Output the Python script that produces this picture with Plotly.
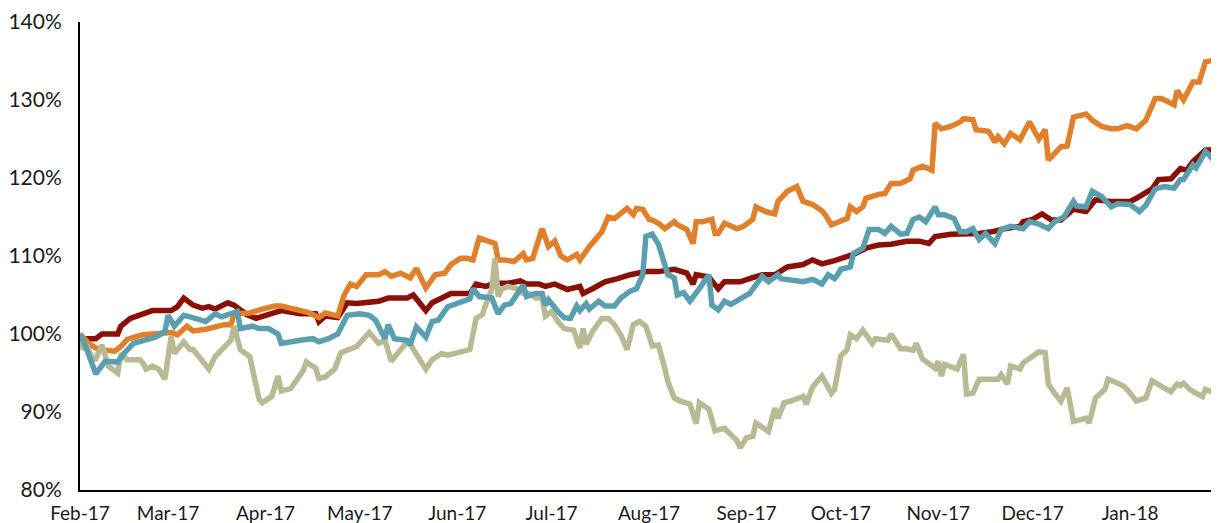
import plotly.graph_objects as go

# ---- Series 1 (dark red) ----
red_dates = ["2017-02-01","2017-02-02","2017-02-06","2017-02-08","2017-02-13","2017-02-14","2017-02-17","2017-02-20","2017-02-24",
             "2017-03-02","2017-03-04","2017-03-06","2017-03-09","2017-03-12","2017-03-14","2017-03-16","2017-03-20","2017-03-22","2017-03-24","2017-03-26","2017-03-29",
             "2017-04-06","2017-04-12","2017-04-17","2017-04-18","2017-04-20","2017-04-24","2017-04-27","2017-04-30",
             "2017-05-07","2017-05-10","2017-05-16","2017-05-18","2017-05-19","2017-05-22","2017-05-24","2017-05-27","2017-05-30",
             "2017-06-02","2017-06-05","2017-06-07","2017-06-10","2017-06-13","2017-06-17","2017-06-21","2017-06-23","2017-06-27","2017-06-29",
             "2017-07-02","2017-07-06","2017-07-10","2017-07-11","2017-07-14","2017-07-18","2017-07-22","2017-07-26","2017-07-31",
             "2017-08-04","2017-08-09","2017-08-13","2017-08-15","2017-08-16","2017-08-20","2017-08-23","2017-08-25","2017-08-30",
             "2017-09-02","2017-09-06","2017-09-10","2017-09-14","2017-09-19","2017-09-22","2017-09-25","2017-09-29",
             "2017-10-05","2017-10-09","2017-10-13","2017-10-17","2017-10-22","2017-10-26","2017-10-29","2017-10-31",
             "2017-11-05","2017-11-10","2017-11-14","2017-11-18","2017-11-22","2017-11-27","2017-11-28",
             "2017-12-01","2017-12-04","2017-12-07","2017-12-10","2017-12-14","2017-12-18","2017-12-21","2017-12-26",
             "2018-01-01","2018-01-03","2018-01-08","2018-01-10","2018-01-14","2018-01-17","2018-01-19","2018-01-21","2018-01-25","2018-01-29"]
red_values = [100.0,99.4,99.4,100.0,100.0,101.0,102.0,102.5,103.0,
              103.0,103.5,104.6,103.7,103.3,103.5,103.2,104.0,103.7,103.2,102.5,102.0,
              103.0,102.6,102.6,101.6,102.3,102.1,104.0,103.9,
              104.2,104.6,104.6,105.0,104.5,103.0,104.0,104.6,105.2,
              105.2,105.2,106.4,106.1,106.5,106.5,106.8,106.4,106.4,106.1,
              106.4,105.7,106.1,105.2,105.8,106.7,107.1,107.6,108.0,
              108.0,108.3,107.8,106.4,107.6,107.3,105.8,106.7,106.7,
              107.1,107.6,107.6,108.6,108.9,109.5,109.0,109.4,
              110.2,111.0,111.4,111.5,111.9,111.9,111.6,112.5,
              112.8,112.8,112.9,113.1,113.5,113.8,114.4,
              114.7,115.4,114.6,114.6,116.0,115.7,117.2,117.0,
              117.0,117.4,118.6,119.8,119.9,121.2,121.0,122.1,123.6,123.6]

# ---- Series 2 (orange) ----
orange_dates = ["2017-02-01","2017-02-04","2017-02-07","2017-02-12","2017-02-14","2017-02-16","2017-02-21","2017-02-25",
                "2017-03-02","2017-03-04","2017-03-07","2017-03-09","2017-03-13","2017-03-17","2017-03-19","2017-03-21","2017-03-22","2017-03-23","2017-03-27","2017-03-31",
                "2017-04-04","2017-04-06","2017-04-10","2017-04-15","2017-04-18","2017-04-20","2017-04-24","2017-04-26","2017-04-28","2017-04-30",
                "2017-05-03","2017-05-07","2017-05-09","2017-05-11","2017-05-14","2017-05-17","2017-05-19","2017-05-22","2017-05-25","2017-05-28","2017-05-30",
                "2017-06-02","2017-06-04","2017-06-06","2017-06-08","2017-06-13","2017-06-14","2017-06-16","2017-06-19","2017-06-22","2017-06-23","2017-06-25","2017-06-28","2017-06-30",
                "2017-07-02","2017-07-04","2017-07-06","2017-07-09","2017-07-10","2017-07-13","2017-07-17","2017-07-19","2017-07-21","2017-07-25","2017-07-27","2017-07-28","2017-07-30",
                "2017-08-01","2017-08-02","2017-08-04","2017-08-06","2017-08-09","2017-08-10","2017-08-13","2017-08-15","2017-08-16","2017-08-18","2017-08-21","2017-08-22","2017-08-23","2017-08-25","2017-08-29","2017-08-31",
                "2017-09-03","2017-09-04","2017-09-07","2017-09-10","2017-09-11","2017-09-14","2017-09-17","2017-09-19","2017-09-22","2017-09-25","2017-09-26","2017-09-28",
                "2017-10-01","2017-10-03","2017-10-04","2017-10-06","2017-10-08","2017-10-09","2017-10-13","2017-10-15","2017-10-17","2017-10-20","2017-10-23","2017-10-24","2017-10-27","2017-10-30","2017-10-31",
                "2017-11-02","2017-11-05","2017-11-08","2017-11-09","2017-11-12","2017-11-13","2017-11-17","2017-11-19","2017-11-20","2017-11-22","2017-11-24","2017-11-27","2017-11-30",
                "2017-12-03","2017-12-05","2017-12-06","2017-12-10","2017-12-12","2017-12-14","2017-12-18","2017-12-20","2017-12-23","2017-12-26","2017-12-28","2017-12-31",
                "2018-01-03","2018-01-06","2018-01-09","2018-01-11","2018-01-15","2018-01-16","2018-01-18","2018-01-21","2018-01-23","2018-01-25","2018-01-29"]
orange_values = [100.0,98.7,98.0,97.8,98.4,99.3,99.9,100.0,
                 100.2,99.9,101.0,100.4,100.6,101.0,101.2,101.2,102.5,102.6,102.7,103.2,
                 103.6,103.6,103.2,102.7,102.1,102.7,102.3,105.0,106.4,106.1,
                 107.6,107.6,108.0,107.4,107.8,107.2,108.4,105.9,107.6,107.8,108.9,
                 109.7,109.7,109.5,112.3,111.6,109.5,109.5,109.3,110.3,109.5,109.7,113.5,111.2,
                 111.9,110.0,109.5,110.2,109.5,111.2,113.1,115.0,114.8,116.1,115.3,116.1,116.0,
                 114.7,114.6,114.2,113.5,114.4,114.0,113.4,111.6,114.4,114.4,114.7,112.9,112.9,114.2,113.5,113.8,
                 114.7,116.3,115.7,115.4,117.0,118.3,118.9,117.0,116.6,115.8,115.3,114.0,
                 114.5,114.8,116.3,115.7,116.3,117.4,117.9,118.0,119.3,119.3,119.9,121.0,121.5,121.0,127.0,
                 126.3,126.6,127.2,127.6,127.5,126.2,126.0,124.6,125.3,124.4,125.7,124.9,127.2,
                 125.0,126.2,122.3,124.0,124.1,127.8,128.2,127.4,126.6,126.3,126.3,126.7,
                 126.3,127.4,130.2,130.2,129.4,131.2,130.0,132.3,132.3,134.9,135.2]

# ---- Series 3 (sage / khaki) ----
sage_dates = ["2017-02-01","2017-02-02","2017-02-03","2017-02-05","2017-02-06","2017-02-08","2017-02-10","2017-02-13","2017-02-14","2017-02-16","2017-02-20","2017-02-21","2017-02-22","2017-02-24","2017-02-26","2017-02-28",
              "2017-03-02","2017-03-03","2017-03-06","2017-03-08","2017-03-09","2017-03-14","2017-03-16","2017-03-19","2017-03-21","2017-03-22","2017-03-24","2017-03-27","2017-03-30","2017-03-31",
              "2017-04-03","2017-04-05","2017-04-06","2017-04-09","2017-04-13","2017-04-14","2017-04-17","2017-04-18","2017-04-20","2017-04-23","2017-04-25","2017-04-30",
              "2017-05-04","2017-05-07","2017-05-09","2017-05-11","2017-05-14","2017-05-16","2017-05-17","2017-05-22","2017-05-24","2017-05-27","2017-05-29","2017-05-31",
              "2017-06-02","2017-06-05","2017-06-07","2017-06-09","2017-06-10","2017-06-12","2017-06-13","2017-06-14","2017-06-15","2017-06-17","2017-06-20","2017-06-22","2017-06-24","2017-06-26","2017-06-28","2017-06-29",
              "2017-07-01","2017-07-03","2017-07-05","2017-07-08","2017-07-10","2017-07-11","2017-07-12","2017-07-14","2017-07-17","2017-07-19","2017-07-21","2017-07-23","2017-07-25","2017-07-27","2017-07-29","2017-07-31",
              "2017-08-02","2017-08-04","2017-08-06","2017-08-07","2017-08-09","2017-08-11","2017-08-14","2017-08-16","2017-08-17","2017-08-20","2017-08-22","2017-08-25","2017-08-29","2017-08-30",
              "2017-09-01","2017-09-03","2017-09-04","2017-09-07","2017-09-08","2017-09-10","2017-09-11","2017-09-13","2017-09-15","2017-09-19","2017-09-20","2017-09-22","2017-09-25","2017-09-28","2017-09-29",
              "2017-10-01","2017-10-03","2017-10-04","2017-10-06","2017-10-08","2017-10-11","2017-10-12","2017-10-16","2017-10-17","2017-10-20","2017-10-22","2017-10-24","2017-10-25","2017-10-27","2017-10-31",
              "2017-11-01","2017-11-02","2017-11-03","2017-11-07","2017-11-09","2017-11-10","2017-11-12","2017-11-14","2017-11-20","2017-11-21","2017-11-23","2017-11-24","2017-11-27","2017-11-28","2017-11-30",
              "2017-12-03","2017-12-05","2017-12-06","2017-12-08","2017-12-10","2017-12-12","2017-12-14","2017-12-16","2017-12-18","2017-12-19","2017-12-20","2017-12-21","2017-12-24","2017-12-25","2017-12-28","2017-12-30","2017-12-31",
              "2018-01-02","2018-01-03","2018-01-06","2018-01-08","2018-01-11","2018-01-14","2018-01-16","2018-01-17","2018-01-18","2018-01-20","2018-01-22","2018-01-24","2018-01-25","2018-01-29"]
sage_values = [100.0,98.0,98.6,96.8,96.8,98.6,95.9,95.0,97.5,96.7,96.7,96.3,95.5,95.9,95.5,94.2,
               99.7,97.5,99.0,98.0,98.0,95.5,97.1,98.4,99.2,101.0,98.0,97.1,91.6,91.2,
               92.0,94.6,92.7,93.0,95.3,96.4,95.6,94.3,94.5,95.5,97.6,98.4,
               100.2,98.8,99.2,96.5,97.9,99.0,98.7,95.5,96.7,97.5,97.3,97.5,
               97.7,98.0,102.0,102.5,103.7,105.8,109.7,104.8,105.7,106.1,105.8,105.2,105.2,104.6,104.6,102.3,
               102.9,101.6,100.7,100.5,98.2,100.7,98.7,100.3,102.0,102.0,101.2,99.9,98.0,101.2,101.6,101.0,
               98.5,98.6,95.6,93.9,91.8,91.4,91.0,88.5,91.2,90.4,87.6,87.9,86.3,85.4,
               86.7,86.9,88.6,87.8,87.5,90.5,89.2,91.2,91.4,92.0,91.0,93.2,94.6,92.4,92.9,
               97.2,98.0,99.9,99.4,100.5,98.8,99.4,99.2,100.0,98.1,98.1,97.9,98.8,96.8,95.6,
               96.5,94.6,96.1,95.5,97.4,92.3,92.4,94.2,94.2,94.8,93.6,95.9,95.5,96.3,96.9,
               97.7,97.6,93.6,92.4,91.4,93.1,88.8,89.0,89.2,88.6,90.4,91.8,92.9,94.2,93.7,93.3,92.9,
               91.8,91.4,91.8,94.0,93.3,92.6,93.6,93.4,93.7,92.9,92.4,92.0,92.9,92.3]

# ---- Series 4 (teal) ----
teal_dates = ["2017-02-01","2017-02-03","2017-02-06","2017-02-09","2017-02-13","2017-02-15","2017-02-18","2017-02-21","2017-02-25","2017-02-28",
              "2017-03-01","2017-03-03","2017-03-06","2017-03-08","2017-03-11","2017-03-13","2017-03-16","2017-03-18","2017-03-21","2017-03-23","2017-03-24","2017-03-28","2017-03-30",
              "2017-04-02","2017-04-05","2017-04-06","2017-04-12","2017-04-16","2017-04-18","2017-04-21","2017-04-24","2017-04-26","2017-04-27",
              "2017-05-01","2017-05-04","2017-05-06","2017-05-09","2017-05-10","2017-05-12","2017-05-16","2017-05-17","2017-05-19","2017-05-22","2017-05-24","2017-05-26","2017-05-29",
              "2017-06-01","2017-06-05","2017-06-06","2017-06-08","2017-06-12","2017-06-14","2017-06-16","2017-06-18","2017-06-22","2017-06-23","2017-06-26","2017-06-28","2017-06-29","2017-06-30",
              "2017-07-03","2017-07-05","2017-07-07","2017-07-09","2017-07-10","2017-07-12","2017-07-13","2017-07-16","2017-07-18","2017-07-21","2017-07-23","2017-07-26","2017-07-28","2017-07-30","2017-07-31",
              "2017-08-02","2017-08-04","2017-08-07","2017-08-09","2017-08-10","2017-08-12","2017-08-14","2017-08-17","2017-08-20","2017-08-21","2017-08-23","2017-08-25","2017-08-27",
              "2017-09-02","2017-09-06","2017-09-08","2017-09-11","2017-09-12","2017-09-15","2017-09-19","2017-09-22","2017-09-25","2017-09-27","2017-09-29","2017-09-30",
              "2017-10-01","2017-10-04","2017-10-05","2017-10-08","2017-10-10","2017-10-13","2017-10-15","2017-10-17","2017-10-20","2017-10-22","2017-10-24","2017-10-26","2017-10-28","2017-10-31",
              "2017-11-01","2017-11-03","2017-11-06","2017-11-08","2017-11-10","2017-11-12","2017-11-14","2017-11-16","2017-11-19","2017-11-21","2017-11-24","2017-11-28","2017-11-30",
              "2017-12-03","2017-12-06","2017-12-08","2017-12-11","2017-12-14","2017-12-15","2017-12-18","2017-12-20","2017-12-23","2017-12-26","2017-12-28",
              "2018-01-01","2018-01-04","2018-01-06","2018-01-09","2018-01-12","2018-01-15","2018-01-17","2018-01-18","2018-01-21","2018-01-22","2018-01-25","2018-01-29"]
teal_values = [100.0,98.2,94.9,96.5,96.4,97.5,98.8,99.2,99.6,100.3,
               102.4,101.0,102.4,102.2,101.8,101.6,102.6,102.2,102.6,102.9,100.7,101.0,100.7,
               100.7,100.0,98.8,99.2,99.4,99.0,99.4,100.0,101.6,102.4,
               102.6,102.4,101.8,99.4,101.2,99.4,99.2,98.6,100.9,99.6,101.6,101.8,103.5,
               103.9,104.5,105.8,104.8,104.6,102.6,103.7,103.9,106.3,104.8,105.2,105.2,103.7,104.4,
               102.9,102.1,102.0,103.6,103.0,103.9,103.2,104.2,103.6,103.6,104.6,105.5,105.8,107.6,112.5,
               112.8,111.5,107.6,107.2,105.0,105.3,104.2,105.8,107.6,103.7,103.1,104.2,103.8,
               105.2,107.4,106.7,107.6,107.1,107.0,106.7,107.0,106.4,107.6,107.1,107.6,
               108.3,108.6,110.3,111.0,113.4,113.4,112.9,113.8,112.8,112.9,114.7,115.0,114.4,116.3,
               115.3,115.3,114.8,113.1,113.1,113.5,112.1,112.9,111.6,113.4,113.8,113.5,114.4,
               114.1,113.5,114.4,115.0,117.0,116.4,116.3,118.3,117.6,116.3,116.7,
               116.6,115.7,116.5,118.6,118.9,118.7,119.8,119.8,121.7,121.3,123.4,121.7]

y_ticks = [80, 90, 100, 110, 120, 130, 140]
y_labels = ["80%", "90%", "100%", "110%", "120%", "130%", "140%"]

series = [
    (red_dates, red_values, "#8a0f05"),
    (orange_dates, orange_values, "#e17f2b"),
    (sage_dates, sage_values, "#b9ba93"),
    (teal_dates, teal_values, "#5a9faf"),
]

fig = go.Figure()
for d, v, c in series:
    fig.add_trace(go.Scatter(x=d, y=v, mode="lines",
                             line=dict(color=c, width=5.5), showlegend=False))

# the page body has an 8px margin, so the figure is sized to end at the window edge
font_family = "Lato, 'Noto Sans', sans-serif"
fig.update_layout(
    width=1211, height=515,
    margin=dict(l=72, r=0, t=14, b=33),
    paper_bgcolor="white", plot_bgcolor="white",
    font=dict(family=font_family, size=20, color="#1a1a1a"),
    showlegend=False,
)
fig.update_xaxes(
    type="date",
    range=["2017-02-01", "2018-01-29 07:00"],
    tick0="2017-02-01", dtick="M1", tickformat="%b-%y",
    showgrid=False, zeroline=False,
    showline=True, linecolor="black", linewidth=2,
    ticks="", ticklabelstandoff=5, automargin=False,
    ticklabeloverflow="allow",
    tickfont=dict(size=19),
)
fig.update_yaxes(
    range=[80, 140], tickmode="array", tickvals=y_ticks, ticktext=y_labels,
    showgrid=False, zeroline=False,
    showline=True, linecolor="black", linewidth=2,
    ticks="", ticklabelstandoff=12, automargin=False,
    ticklabeloverflow="allow",
    tickfont=dict(size=21),
)

fig.write_html("out.html")
